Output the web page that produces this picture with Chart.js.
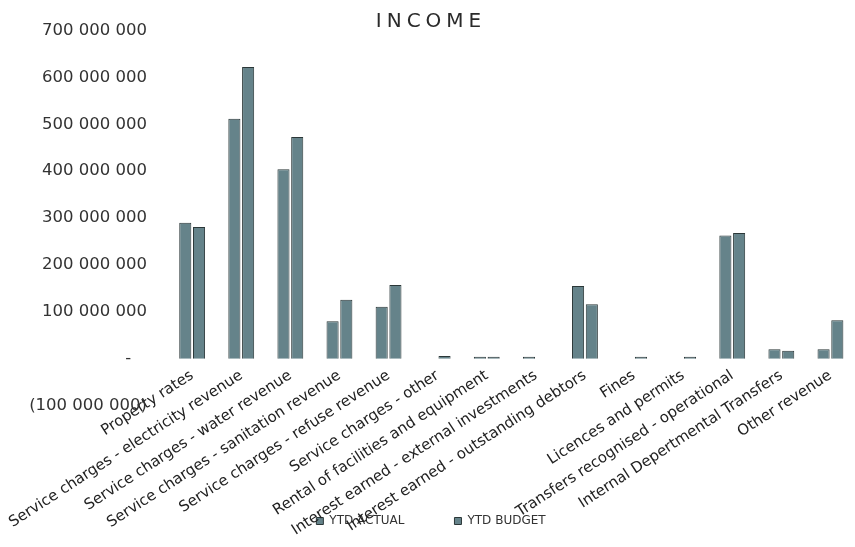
<!DOCTYPE html>
<html>
<head>
<meta charset="utf-8">
<script src="https://cdn.jsdelivr.net/npm/chart.js@4/dist/chart.umd.min.js"></script>
<style>
  html, body { margin: 0; padding: 0; background: #ffffff; }
  #wrap { width: 855px; height: 547px; position: relative; }
</style>
</head>
<body>
<div id="wrap"><canvas id="c"></canvas></div>
<script>
const chartTitle = 'INCOME';

const categories = [
  'Property rates',
  'Service charges - electricity revenue',
  'Service charges - water revenue',
  'Service charges - sanitation revenue',
  'Service charges - refuse revenue',
  'Service charges - other',
  'Rental of facilities and equipment',
  'Interest earned - external investments',
  'Interest earned - outstanding debtors',
  'Fines',
  'Licences and permits',
  'Transfers recognised - operational',
  'Internal Depertmental Transfers',
  'Other revenue'
];

const seriesNames = ['YTD ACTUAL', 'YTD BUDGET'];

const ytdActual = [290000000, 512000000, 404000000, 80000000, 111000000, null, 1500000, 1000000, 155000000, null, null, 263000000, 20000000, 20000000];
const ytdBudget = [281000000, 622000000, 473000000, 126000000, 157000000, 6000000, 1500000, null, 116000000, 1000000, 1000000, 268000000, 17000000, 82000000];

const yTickValues = [-100000000, 0, 100000000, 200000000, 300000000, 400000000, 500000000, 600000000, 700000000];
const yTickLabels = ['(100 000 000)', '-\u2007 ', '100 000 000', '200 000 000', '300 000 000', '400 000 000', '500 000 000', '600 000 000', '700 000 000'];

const barFill = '#65838a';
const barEdge = '#2b3738';

const spacedTitle = {
  id: 'spacedTitle',
  beforeDraw(chart) {
    const tb = chart.titleBlock;
    if (tb && !tb._spaced) {
      const orig = tb.draw;
      tb.draw = function (area) {
        const c = chart.ctx;
        c.save();
        c.letterSpacing = '5px';
        orig.call(this, area);
        c.restore();
      };
      tb._spaced = true;
    }
  }
};

new Chart(document.getElementById('c'), {
  type: 'bar',
  data: {
    labels: categories,
    datasets: [
      { label: seriesNames[0], data: ytdActual, backgroundColor: barFill, borderColor: barEdge, borderWidth: 1, minBarLength: 2 },
      { label: seriesNames[1], data: ytdBudget, backgroundColor: barFill, borderColor: barEdge, borderWidth: 1, minBarLength: 2 }
    ]
  },
  options: {
    responsive: true,
    maintainAspectRatio: false,
    animation: false,
    layout: { padding: { left: -7, right: -14, top: 0, bottom: 10 } },
    datasets: { bar: { categoryPercentage: 0.56, barPercentage: 0.88 } },
    plugins: {
      title: {
        display: true,
        text: chartTitle,
        color: '#2a2a2a',
        font: { family: 'DejaVu Sans', size: 20, weight: 'normal', lineHeight: 1 },
        padding: { top: 8, bottom: -1 }
      },
      legend: {
        position: 'bottom',
        title: { display: true, text: '', font: { size: 12, lineHeight: 1.2 }, padding: { top: 0, bottom: 45 } },
        labels: {
          boxWidth: 7,
          boxHeight: 7,
          padding: 50,
          color: '#333333',
          font: { family: 'DejaVu Sans', size: 12 }
        }
      },
      tooltip: { enabled: false }
    },
    scales: {
      x: {
        position: { y: 0 },
        grid: { display: false, drawTicks: false },
        border: { display: false },
        ticks: {
          autoSkip: false,
          minRotation: 33,
          maxRotation: 33,
          padding: 8,
          color: '#222222',
          font: { family: 'DejaVu Sans', size: 15 }
        }
      },
      y: {
        min: -100000000,
        max: 700000000,
        afterFit(scale) { scale.width = 174.6; },
        grid: { display: false, drawTicks: false },
        border: { display: false },
        ticks: {
          stepSize: 100000000,
          padding: 20.6,
          color: '#333333',
          font: { family: 'DejaVu Sans', size: 16.5 },
          callback(v) {
            const i = yTickValues.indexOf(Math.round(v));
            return i >= 0 ? yTickLabels[i] : '';
          }
        }
      }
    }
  },
  plugins: [spacedTitle]
});
</script>
</body>
</html>
